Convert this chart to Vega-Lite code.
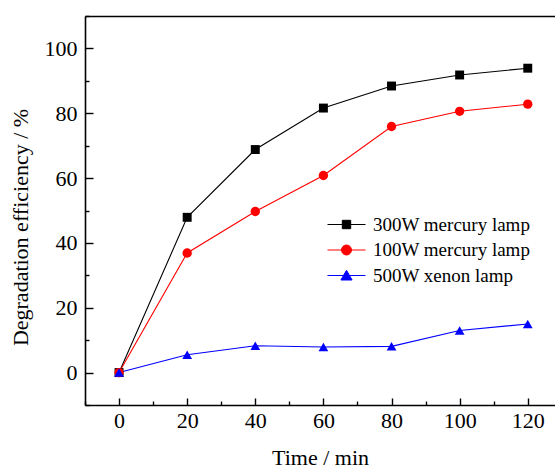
{
  "$schema": "https://vega.github.io/schema/vega-lite/v6.json",
  "autosize": "none",
  "width": 470,
  "height": 389,
  "padding": {"left": 85, "top": 16, "right": 0, "bottom": 63},
  "background": "white",
  "config": {
    "view": {"stroke": null},
    "font": "Liberation Serif",
    "axis": {"labelFont": "Liberation Serif", "titleFont": "Liberation Serif", "labelColor": "black", "titleColor": "black", "labelFontSize": 22, "titleFontSize": 22, "titleFontWeight": "normal", "grid": false, "domainColor": "black", "tickColor": "black", "domainWidth": 1.6, "tickWidth": 1.4},
    "legend": {"labelFont": "Liberation Serif", "labelFontSize": 19, "labelColor": "black"}
  },
  "data": {"values": [
    {"t": 0, "eff": 0, "lamp": "300W mercury lamp"},
    {"t": 20, "eff": 47.9, "lamp": "300W mercury lamp"},
    {"t": 40, "eff": 68.8, "lamp": "300W mercury lamp"},
    {"t": 60, "eff": 81.6, "lamp": "300W mercury lamp"},
    {"t": 80, "eff": 88.4, "lamp": "300W mercury lamp"},
    {"t": 100, "eff": 91.8, "lamp": "300W mercury lamp"},
    {"t": 120, "eff": 93.9, "lamp": "300W mercury lamp"},
    {"t": 0, "eff": 0, "lamp": "100W mercury lamp"},
    {"t": 20, "eff": 36.9, "lamp": "100W mercury lamp"},
    {"t": 40, "eff": 49.7, "lamp": "100W mercury lamp"},
    {"t": 60, "eff": 60.8, "lamp": "100W mercury lamp"},
    {"t": 80, "eff": 75.9, "lamp": "100W mercury lamp"},
    {"t": 100, "eff": 80.6, "lamp": "100W mercury lamp"},
    {"t": 120, "eff": 82.8, "lamp": "100W mercury lamp"},
    {"t": 0, "eff": 0, "lamp": "500W xenon lamp"},
    {"t": 20, "eff": 5.5, "lamp": "500W xenon lamp"},
    {"t": 40, "eff": 8.3, "lamp": "500W xenon lamp"},
    {"t": 60, "eff": 7.9, "lamp": "500W xenon lamp"},
    {"t": 80, "eff": 8.1, "lamp": "500W xenon lamp"},
    {"t": 100, "eff": 13, "lamp": "500W xenon lamp"},
    {"t": 120, "eff": 15, "lamp": "500W xenon lamp"}
  ]},
  "layer": [
    {
      "mark": {"type": "line", "strokeWidth": 1.1},
      "encoding": {
        "x": {"field": "t", "type": "quantitative", "scale": {"domain": [-10, 128], "nice": false, "zero": false},
              "axis": {"title": "Time / min", "orient": "bottom", "values": [0, 20, 40, 60, 80, 100, 120], "tickSize": -7, "labelPadding": 12, "titlePadding": 16, "domain": true}},
        "y": {"field": "eff", "type": "quantitative", "scale": {"domain": [-10, 110], "nice": false, "zero": false},
              "axis": {"title": "Degradation efficiency / %", "orient": "left", "values": [0, 20, 40, 60, 80, 100], "tickSize": -8, "labelPadding": 16, "titlePadding": 12, "titleY": 211, "domain": true}},
        "color": {"field": "lamp", "type": "nominal", "legend": null,
                  "scale": {"domain": ["300W mercury lamp", "100W mercury lamp", "500W xenon lamp"], "range": ["black", "#ff0000", "#0000ff"]}},
        "detail": {"field": "lamp"}
      }
    },
    {
      "mark": {"type": "point", "filled": true, "opacity": 1},
      "encoding": {
        "x": {"field": "t", "type": "quantitative",
              "axis": {"title": null, "orient": "bottom", "values": [-10, 10, 30, 50, 70, 90, 110], "tickSize": -4, "labels": false, "domain": false}},
        "y": {"field": "eff", "type": "quantitative",
              "axis": {"title": null, "orient": "left", "values": [-10, 10, 30, 50, 70, 90, 110], "tickSize": -4, "labels": false, "domain": false}},
        "color": {"field": "lamp", "type": "nominal", "legend": null,
                  "scale": {"domain": ["300W mercury lamp", "100W mercury lamp", "500W xenon lamp"], "range": ["black", "#ff0000", "#0000ff"]}},
        "size": {"field": "lamp", "type": "nominal", "legend": null,
                 "scale": {"domain": ["300W mercury lamp", "100W mercury lamp", "500W xenon lamp"], "range": [80, 95, 135]}},
        "shape": {"field": "lamp", "type": "nominal", "legend": null,
                  "scale": {"domain": ["300W mercury lamp", "100W mercury lamp", "500W xenon lamp"], "range": ["square", "circle", "triangle-up"]}}
      }
    },
    {
      "transform": [{"filter": "datum.t < -100"}],
      "mark": {"type": "point", "filled": true, "opacity": 1, "size": 400, "strokeWidth": 1},
      "encoding": {
        "x": {"field": "t", "type": "quantitative",
              "axis": {"title": null, "orient": "top", "ticks": false, "labels": false, "domain": true}},
        "y": {"field": "eff", "type": "quantitative", "axis": null},
        "color": {"field": "lamp", "type": "nominal",
                  "scale": {"domain": ["300W mercury lamp", "100W mercury lamp", "500W xenon lamp"], "range": ["black", "#ff0000", "#0000ff"]},
                  "legend": {"title": null, "orient": "none", "legendX": 251, "legendY": 198, "padding": 0, "symbolSize": 400, "symbolStrokeWidth": 1, "labelOffset": 16, "rowPadding": 4.5}},
        "stroke": {"field": "lamp", "type": "nominal",
                  "scale": {"domain": ["300W mercury lamp", "100W mercury lamp", "500W xenon lamp"], "range": ["black", "#ff0000", "#0000ff"]},
                  "legend": {"title": null, "orient": "none", "legendX": 251, "legendY": 198, "padding": 0, "symbolSize": 400, "symbolStrokeWidth": 1, "labelOffset": 16, "rowPadding": 4.5}},
        "shape": {"field": "lamp", "type": "nominal",
                  "scale": {"domain": ["300W mercury lamp", "100W mercury lamp", "500W xenon lamp"],
                            "range": ["M-1.9,0H1.9M-0.42,-0.42H0.42V0.42H-0.42Z", "M-1.9,0H1.9M0.5,0A0.5,0.5 0 1,1 -0.5,0A0.5,0.5 0 1,1 0.5,0Z", "M-1.9,0H1.9M0,-0.52L0.56,0.45H-0.56Z"]},
                  "legend": {"title": null, "orient": "none", "legendX": 251, "legendY": 198, "padding": 0, "symbolSize": 400, "symbolStrokeWidth": 1, "labelOffset": 16, "rowPadding": 4.5}}
      }
    }
  ],
  "resolve": {"scale": {"shape": "independent", "color": "independent", "stroke": "independent", "size": "independent"}, "axis": {"x": "independent", "y": "independent"}}
}
